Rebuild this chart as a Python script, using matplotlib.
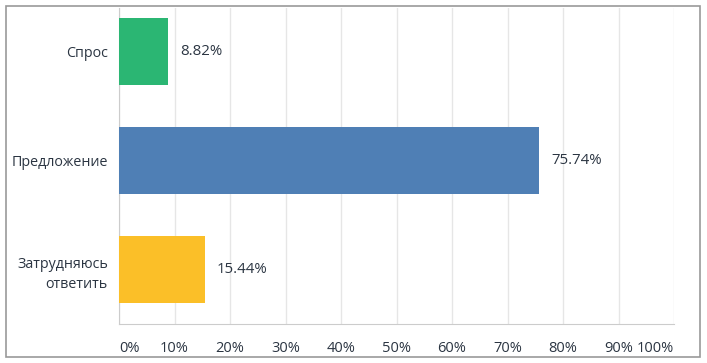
import matplotlib
matplotlib.use('Agg')
import matplotlib.pyplot as plt
from matplotlib.patches import Rectangle

categories = ['Спрос', 'Предложение', 'Затрудняюсь\nответить']
values = [8.82, 75.74, 15.44]
colors = ['#2bb673', '#4f7fb5', '#fbbf28']
ticks = [0, 10, 20, 30, 40, 50, 60, 70, 80, 90, 100]
tick_labels = ['%d%%' % t for t in ticks]

plt.rcParams['font.family'] = ['Open Sans', 'DejaVu Sans']
text_color = '#2b3542'

fig = plt.figure(figsize=(7.07, 3.63), dpi=100)
ax = fig.add_axes([119 / 707, 1 - 324 / 363, (674 - 119) / 707, (324 - 8) / 363])

ypos = list(range(len(categories)))
ax.barh(ypos, values, height=0.62, color=colors, zorder=3)
for y, v in zip(ypos, values):
    ax.text(v + 2.2, y, '%.2f%%' % v, va='center', ha='left',
            fontsize=10.8, color=text_color)

ax.set_xlim(0, 100)
ax.set_ylim(2.5, -0.4)
ax.set_xticks(ticks)
ax.set_xticklabels(tick_labels, fontsize=10.5, color=text_color)
labs = ax.get_xticklabels()
labs[0].set_ha('left')
labs[-1].set_ha('right')
ax.set_yticks(ypos)
ax.set_yticklabels(categories, fontsize=10.3, color=text_color, linespacing=1.5)
ax.tick_params(axis='both', length=0)
ax.tick_params(axis='x', pad=12)
ax.tick_params(axis='y', pad=8)
ax.grid(axis='x', color='#e6e6e6', linewidth=1, zorder=0)

for s in ['top', 'right']:
    ax.spines[s].set_visible(False)
ax.spines['left'].set_color('#cccccc')
ax.spines['bottom'].set_color('#cccccc')

fig.patches.append(Rectangle((6 / 707, 1 - 357 / 363), 694 / 707, 351 / 363,
                             transform=fig.transFigure, fill=False,
                             edgecolor='#999999', linewidth=1.2))

plt.savefig('out.png', dpi=100)
